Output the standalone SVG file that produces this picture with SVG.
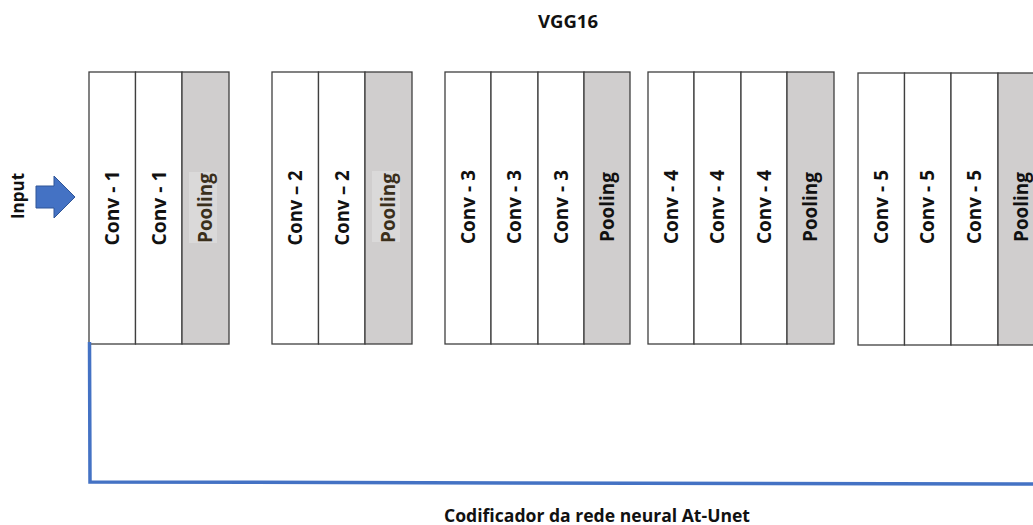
<svg xmlns="http://www.w3.org/2000/svg" width="1033" height="525" viewBox="0 0 1033 525">
<style>
.col{fill:#ffffff;stroke:#3f3f3f;stroke-width:1.3}
.pool{fill:#d0cece;stroke:#3f3f3f;stroke-width:1.3}
.lbl{font-family:"Open Sans","Liberation Sans",sans-serif;font-weight:700;font-size:19.5px;fill:#111111;text-anchor:middle}
.brown{fill:#3a2f1c}
.hl{fill:#dad9d9}
.title{font-family:"Open Sans","Liberation Sans",sans-serif;font-weight:700;font-size:17px;fill:#111111;text-anchor:middle}
.conn{fill:none;stroke:#4472c4;stroke-width:3.5}
</style>
<rect width="1033" height="525" fill="#ffffff"/>
<text class="title" x="568" y="28" textLength="60" lengthAdjust="spacingAndGlyphs">VGG16</text>
<g id="input">
<text class="title" transform="translate(24,196) rotate(-90)" font-size="16">Input</text>
<polygon points="36,186 54,186 54,176 75,197 54,218 54,208 36,208" fill="#4472c4" stroke="#2f5597" stroke-width="1"/>
</g>
<g id="block1">
<rect class="col" x="89" y="72" width="46.5" height="272"/>
<rect class="col" x="135.5" y="72" width="46.5" height="272"/>
<rect class="pool" x="182" y="72" width="47" height="272"/>
<rect class="hl" x="189" y="172" width="28" height="71"/>
<text class="lbl" transform="translate(118.5,208) rotate(-90)" textLength="75" lengthAdjust="spacingAndGlyphs">Conv - 1</text>
<text class="lbl" transform="translate(165.5,208) rotate(-90)" textLength="75" lengthAdjust="spacingAndGlyphs">Conv - 1</text>
<text class="lbl brown" transform="translate(211.5,208) rotate(-90)" textLength="70" lengthAdjust="spacingAndGlyphs">Pooling</text>
</g>
<g id="block2">
<rect class="col" x="272" y="72" width="46.5" height="272"/>
<rect class="col" x="318.5" y="72" width="46.5" height="272"/>
<rect class="pool" x="365" y="72" width="47" height="272"/>
<rect class="hl" x="372" y="171" width="28" height="71"/>
<text class="lbl" transform="translate(301.5,208) rotate(-90)" textLength="75" lengthAdjust="spacingAndGlyphs">Conv – 2</text>
<text class="lbl" transform="translate(348.5,208) rotate(-90)" textLength="75" lengthAdjust="spacingAndGlyphs">Conv – 2</text>
<text class="lbl brown" transform="translate(394.5,208) rotate(-90)" textLength="70" lengthAdjust="spacingAndGlyphs">Pooling</text>
</g>
<g id="block3">
<rect class="col" x="445" y="72" width="46" height="272"/>
<rect class="col" x="491" y="72" width="47" height="272"/>
<rect class="col" x="538" y="72" width="46" height="272"/>
<rect class="pool" x="584" y="72" width="46" height="272"/>
<text class="lbl" transform="translate(474.5,207) rotate(-90)" textLength="74" lengthAdjust="spacingAndGlyphs">Conv - 3</text>
<text class="lbl" transform="translate(520.5,207) rotate(-90)" textLength="74" lengthAdjust="spacingAndGlyphs">Conv - 3</text>
<text class="lbl" transform="translate(567.5,207) rotate(-90)" textLength="74" lengthAdjust="spacingAndGlyphs">Conv - 3</text>
<text class="lbl" transform="translate(613.5,207) rotate(-90)" textLength="70" lengthAdjust="spacingAndGlyphs">Pooling</text>
</g>
<g id="block4">
<rect class="col" x="648" y="72" width="46" height="272"/>
<rect class="col" x="694" y="72" width="47" height="272"/>
<rect class="col" x="741" y="72" width="46" height="272"/>
<rect class="pool" x="787" y="72" width="47" height="272"/>
<text class="lbl" transform="translate(677.5,207) rotate(-90)" textLength="74" lengthAdjust="spacingAndGlyphs">Conv - 4</text>
<text class="lbl" transform="translate(723.5,207) rotate(-90)" textLength="74" lengthAdjust="spacingAndGlyphs">Conv - 4</text>
<text class="lbl" transform="translate(770.5,207) rotate(-90)" textLength="74" lengthAdjust="spacingAndGlyphs">Conv - 4</text>
<text class="lbl" transform="translate(816.5,207) rotate(-90)" textLength="70" lengthAdjust="spacingAndGlyphs">Pooling</text>
</g>
<g id="block5">
<rect class="col" x="858" y="73" width="46.5" height="272"/>
<rect class="col" x="904.5" y="73" width="46.5" height="272"/>
<rect class="col" x="951" y="73" width="47" height="272"/>
<rect class="pool" x="998" y="73" width="47" height="272"/>
<text class="lbl" transform="translate(887.5,207) rotate(-90)" textLength="74" lengthAdjust="spacingAndGlyphs">Conv - 5</text>
<text class="lbl" transform="translate(933.5,207) rotate(-90)" textLength="74" lengthAdjust="spacingAndGlyphs">Conv - 5</text>
<text class="lbl" transform="translate(980.5,207) rotate(-90)" textLength="74" lengthAdjust="spacingAndGlyphs">Conv - 5</text>
<text class="lbl" transform="translate(1027.5,207) rotate(-90)" textLength="70" lengthAdjust="spacingAndGlyphs">Pooling</text>
</g>
<g id="connectors">
<polyline class="conn" points="89.5,342 90,482 1035,484"/>
</g>
<text class="title" x="597" y="522" textLength="306" lengthAdjust="spacingAndGlyphs">Codificador da rede neural At-Unet</text>
</svg>
